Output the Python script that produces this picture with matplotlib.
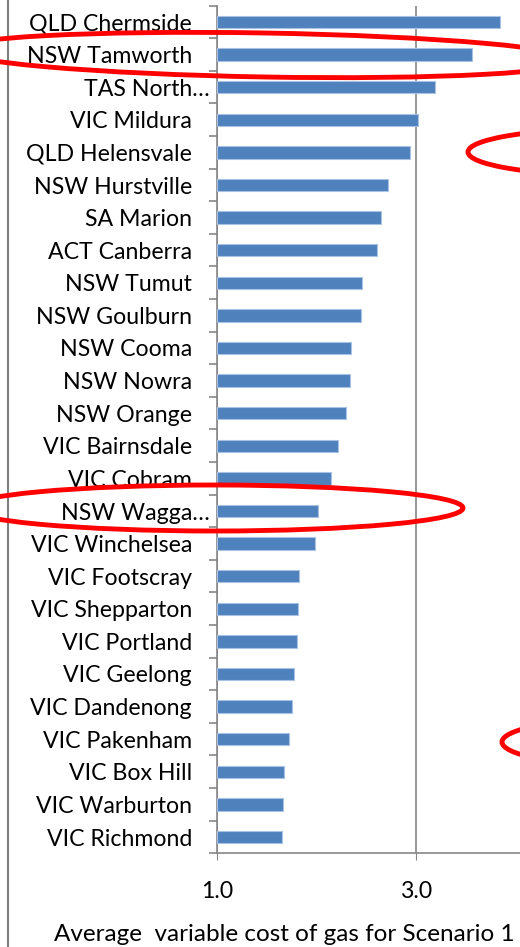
import numpy as np
import matplotlib
matplotlib.use("Agg")
import matplotlib.pyplot as plt
from matplotlib.patches import Ellipse
from matplotlib.transforms import ScaledTranslation

# data, top to bottom as in the chart
sites = ["QLD Chermside", "NSW Tamworth", "TAS North\u2026", "VIC Mildura",
         "QLD Helensvale", "NSW Hurstville", "SA Marion", "ACT Canberra",
         "NSW Tumut", "NSW Goulburn", "NSW Cooma", "NSW Nowra", "NSW Orange",
         "VIC Bairnsdale", "VIC Cobram", "NSW Wagga\u2026", "VIC Winchelsea",
         "VIC Footscray", "VIC Shepparton", "VIC Portland", "VIC Geelong",
         "VIC Dandenong", "VIC Pakenham", "VIC Box Hill", "VIC Warburton",
         "VIC Richmond"]
cost = [3.84, 3.56, 3.19, 3.02, 2.94, 2.72, 2.65, 2.61, 2.46, 2.45, 2.35,
        2.34, 2.30, 2.22, 2.15, 2.02, 1.98, 1.82, 1.81, 1.80, 1.77, 1.75,
        1.72, 1.67, 1.66, 1.65]
xticks = [1.0, 3.0]
xlabel = "Average  variable cost of gas for Scenario 1"

plt.rcParams['font.family'] = ['Lato', 'DejaVu Sans']

W, H = 520, 947
fig = plt.figure(figsize=(W / 100, H / 100), dpi=100)
ax = fig.add_axes([217 / W, 1 - 853.3 / H, 1 - 217 / W, (853.3 - 5.7) / H])

y = np.arange(len(sites))
ax.barh(y, np.array(cost) - 1.0, left=1.0, height=0.38,
        color="#4f81bd", edgecolor="#a7c2e3", linewidth=0.8, zorder=3)

ax.set_xlim(1.0, 1 + 303 / 99.5)
ax.set_ylim(len(sites) - 0.5, -0.5)

ax.set_xticks(xticks)
ax.set_xticklabels(["%.1f" % v for v in xticks], fontsize=16.7)
ax.tick_params(axis="x", direction="out", length=5, color="#868686", pad=15)
ax.grid(axis="x", color="#868686", linewidth=1.2, zorder=1)

ax.set_yticks(y)
ax.set_yticklabels(sites, fontsize=16.7)
ax.set_yticks(np.arange(len(sites) + 1) - 0.5, minor=True)
ax.tick_params(axis="y", which="major", length=0, pad=18)
ax.tick_params(axis="y", which="minor", direction="out", length=6,
               color="#868686", width=1.2)

# truncated labels sit further right
for lab in ax.get_yticklabels():
    if lab.get_text().endswith("\u2026"):
        lab.set_transform(lab.get_transform() +
                          ScaledTranslation(0.18, 0, fig.dpi_scale_trans))

for s in ["top", "right"]:
    ax.spines[s].set_visible(False)
for s in ["left", "bottom"]:
    ax.spines[s].set_color("#868686")
    ax.spines[s].set_linewidth(1.2)

fig.text(284 / W, 1 - 934 / H, xlabel, fontsize=17.5, ha="center", va="center")

# chart border on the left
fig.add_artist(plt.Line2D([8 / W, 8 / W], [0, 1], color="#7f7f7f",
                          linewidth=1.5, transform=fig.transFigure))

# red hand-drawn ellipses
def ring(cx, cy, w, h, ang=0):
    fig.add_artist(Ellipse((cx, H - cy), w, h, angle=ang, fill=False,
                           edgecolor="red", linewidth=3.5,
                           transform=None, zorder=10))

ring(265, 55, 620, 44, -1)
ring(605, 152, 274, 46)
ring(215, 508, 496, 46)
ring(620, 742, 236, 46)

fig.savefig("out.png", dpi=100)
